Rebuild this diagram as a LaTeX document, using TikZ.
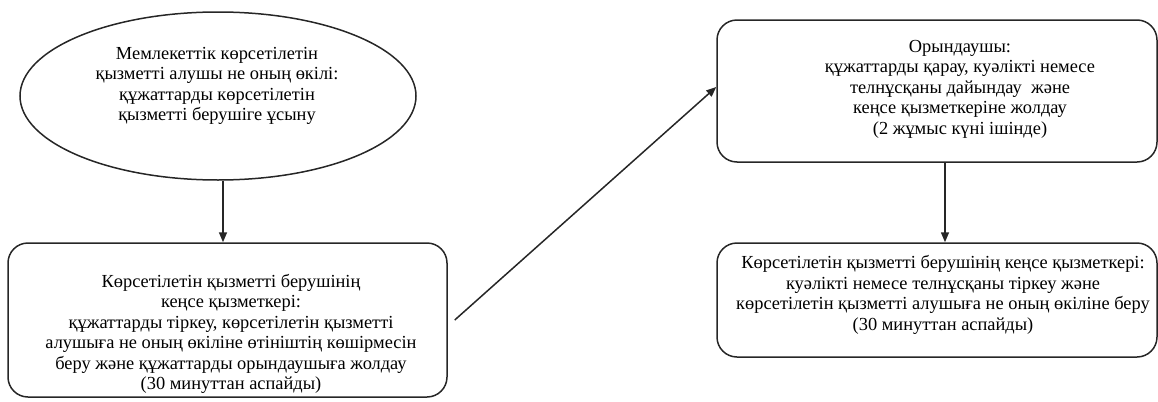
\documentclass[tikz,border=0pt]{standalone}
\usepackage{fontspec}
\setmainfont{Liberation Serif}
\usetikzlibrary{arrows.meta,shapes.geometric}
\tikzset{
  flow line/.style={draw=black!85, line width=0.75pt},
  flow arrow/.style={flow line, -{Triangle[length=5pt, width=4pt]}},
  flow box/.style={flow line, rounded corners=10pt, inner sep=0pt},
  flow oval/.style={flow line, ellipse, inner sep=0pt},
  flow text/.style={align=center, inner sep=0pt, font=\fontsize{9.2}{10.25}\selectfont},
}

\begin{document}
\begin{tikzpicture}[x=0.5pt, y=-0.5pt]
  \useasboundingbox (0,0) rectangle (1158,402);
  % Shapes
  \node[flow oval, minimum width=198pt, minimum height=84pt] (client) at (218,96) {};
  \node[flow box, minimum width=219.5pt, minimum height=77pt] (office) at (227.5,320) {};
  \node[flow box, minimum width=220pt, minimum height=71pt] (executor) at (937,91) {};
  \node[flow box, minimum width=220pt, minimum height=57pt] (issue) at (937,300) {};
  % Texts
  \node[flow text] (client text) at (217,86) {Мемлекеттік көрсетілетін\\
    қызметті алушы не оның өкілі:\\ құжаттарды көрсетілетін\\
    қызметті берушіге ұсыну};
  \node[flow text] (office text) at (231,334) {Көрсетілетін қызметті берушінің\\
    кеңсе қызметкері:\\ құжаттарды тіркеу, көрсетілетін қызметті\\
    алушыға не оның өкіліне өтініштің көшірмесін\\
    беру және құжаттарды орындаушыға жолдау\\ (30 минуттан аспайды)};
  \node[flow text] (executor text) at (960,89) {Орындаушы:\\
    құжаттарды қарау, куәлікті немесе\\ телнұсқаны дайындау\ \ және\\
    кеңсе қызметкеріне жолдау\\ (2 жұмыс күні ішінде)};
  \node[flow text] (issue text) at (943,295) {Көрсетілетін қызметті берушінің кеңсе қызметкері:\\
    куәлікті немесе телнұсқаны тіркеу және\\
    көрсетілетін қызметті алушыға не оның өкіліне беру\\ (30 минуттан аспайды)};
  % Connectors
  \draw[flow arrow] ([xshift=2.5pt]client.south) -- ([xshift=2.5pt]client.south |- office.north);
  \draw[flow arrow] ([xshift=3.5pt]office.east) -- ([yshift=2pt]executor.west);
  \draw[flow arrow] ([xshift=4pt]executor.south) -- ([xshift=4pt]issue.north);
\end{tikzpicture}
\end{document}
